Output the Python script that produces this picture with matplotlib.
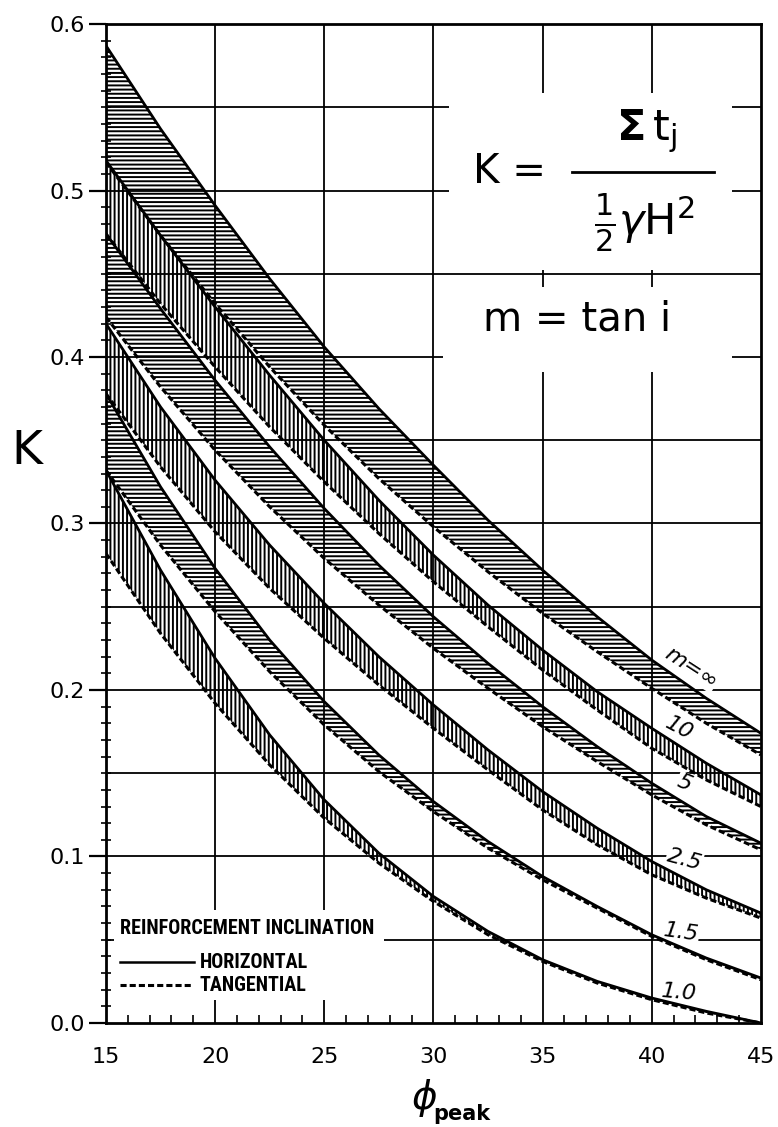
import numpy as np
import matplotlib.pyplot as plt
from matplotlib import font_manager
from matplotlib.patches import Rectangle

plt.rcParams['mathtext.fontset'] = 'dejavusans'
plt.rcParams['hatch.linewidth'] = 1.4
plt.rcParams['font.family'] = ['DejaVu Sans']

# friction angle, degrees
phi = [15, 17.5, 20, 22.5, 25, 27.5, 30, 32.5, 35, 37.5, 40, 42.5, 45]

# K for horizontal (solid) and tangential (dashed) reinforcement, one pair per m
k_inf_h = [0.587, 0.537, 0.491, 0.447, 0.406, 0.369, 0.335, 0.302, 0.272, 0.244, 0.218, 0.195, 0.174]
k_inf_t = [0.517, 0.473, 0.432, 0.394, 0.359, 0.327, 0.298, 0.271, 0.246, 0.223, 0.201, 0.180, 0.161]
k_10_h = [0.518, 0.473, 0.430, 0.389, 0.350, 0.314, 0.281, 0.251, 0.224, 0.199, 0.177, 0.156, 0.137]
k_10_t = [0.474, 0.432, 0.394, 0.358, 0.325, 0.294, 0.265, 0.238, 0.212, 0.188, 0.165, 0.146, 0.130]
k_5_h = [0.474, 0.429, 0.386, 0.346, 0.309, 0.275, 0.244, 0.216, 0.190, 0.166, 0.144, 0.124, 0.108]
k_5_t = [0.424, 0.382, 0.344, 0.310, 0.279, 0.251, 0.225, 0.201, 0.178, 0.157, 0.137, 0.119, 0.104]
k_25_h = [0.420, 0.370, 0.326, 0.287, 0.252, 0.220, 0.191, 0.164, 0.139, 0.117, 0.097, 0.080, 0.066]
k_25_t = [0.378, 0.334, 0.295, 0.261, 0.231, 0.203, 0.177, 0.152, 0.128, 0.107, 0.089, 0.075, 0.063]
k_15_h = [0.378, 0.322, 0.273, 0.230, 0.193, 0.161, 0.133, 0.109, 0.088, 0.070, 0.053, 0.039, 0.027]
k_15_t = [0.332, 0.287, 0.247, 0.211, 0.179, 0.151, 0.127, 0.105, 0.086, 0.069, 0.052, 0.038, 0.026]
k_10m_h = [0.332, 0.272, 0.219, 0.173, 0.134, 0.102, 0.076, 0.055, 0.038, 0.025, 0.015, 0.007, 0.000]
k_10m_t = [0.282, 0.234, 0.192, 0.155, 0.123, 0.096, 0.073, 0.053, 0.037, 0.024, 0.014, 0.006, 0.000]

bands = [
    (k_inf_h, k_inf_t, '----'),
    (k_10_h, k_10_t, '||||'),
    (k_5_h, k_5_t, '----'),
    (k_25_h, k_25_t, '||||'),
    (k_15_h, k_15_t, '----'),
    (k_10m_h, k_10m_t, '||||'),
]

m_labels = ['m=∞', '10', '5', '2.5', '1.5', '1.0']

# a narrow face for the legend if one is installed, else a small bold one
installed = {f.name for f in font_manager.fontManager.ttflist}
narrow = [n for n in ['Liberation Sans Narrow', 'Roboto Condensed', 'Open Sans Condensed']
          if n in installed]
if narrow:
    legend_font = dict(family=[narrow[0], 'DejaVu Sans'], fontsize=14.5, weight='bold')
else:
    legend_font = dict(family=['DejaVu Sans'], fontsize=11, weight='bold')

fig = plt.figure(figsize=(7.78, 11.27), dpi=100)
ax = fig.add_axes([0.1362, 0.0923, 0.8418, 0.8864])

ax.set_xlim(15, 45)
ax.set_ylim(0, 0.6)

# grid drawn by hand so the white panels can blank it out
for x in range(20, 45, 5):
    ax.axvline(x, color='black', lw=1.3, zorder=1)
for y in np.arange(0.05, 0.6, 0.05):
    ax.axhline(y, color='black', lw=1.3, zorder=1)

for k_h, k_t, hatch in bands:
    ax.fill_between(phi, k_t, k_h, facecolor='none', edgecolor='black',
                    hatch=hatch, linewidth=0, zorder=1.3)
    ax.plot(phi, k_h, color='black', lw=2.0, zorder=2)
    ax.plot(phi, k_t, color='black', lw=2.2, dashes=(2.0, 1.0), zorder=2)

# white panels behind formula and legend
for x0, y0, w, h in [(0.524, 0.754, 0.432, 0.177),
                     (0.514, 0.652, 0.442, 0.085),
                     (0.012, 0.023, 0.413, 0.090)]:
    ax.add_patch(Rectangle((x0, y0), w, h, transform=ax.transAxes,
                           facecolor='white', edgecolor='none', zorder=1.2))

# formula
ax.text(0.616, 0.852, 'K =', transform=ax.transAxes, fontsize=29,
        ha='center', va='center', zorder=3)
ax.text(0.826, 0.893, r'$\mathbf{\Sigma}\,\mathrm{t}_{\mathrm{j}}$', transform=ax.transAxes,
        fontsize=31, ha='center', va='center', zorder=3)
ax.plot([0.712, 0.928], [0.852, 0.852], transform=ax.transAxes, color='black',
        lw=2.0, zorder=3)
ax.text(0.822, 0.800, r'$\frac{1}{2}\gamma\mathrm{H}^{2}$', transform=ax.transAxes,
        fontsize=31, ha='center', va='center', zorder=3)
ax.text(0.72, 0.704, 'm = tan i', transform=ax.transAxes, fontsize=29,
        ha='center', va='center', zorder=3)

# m labels at the right end of the bands
label_pos = [(0.893, 0.355, -33), (0.875, 0.295, -28), (0.883, 0.240, -22),
             (0.883, 0.163, -15), (0.878, 0.091, -8), (0.875, 0.030, -5)]
for text, (lx, ly, rot) in zip(m_labels, label_pos):
    ax.text(lx, ly, text, transform=ax.transAxes, fontsize=16, style='italic',
            rotation=rot, ha='center', va='center', zorder=1.25,
            bbox=dict(facecolor='white', edgecolor='none', pad=0.5))

# legend
ax.text(0.021, 0.095, 'REINFORCEMENT INCLINATION', transform=ax.transAxes,
        ha='left', va='center', zorder=3, **legend_font)
ax.plot([0.021, 0.135], [0.061, 0.061], transform=ax.transAxes, color='black',
        lw=1.8, zorder=3)
ax.text(0.143, 0.061, 'HORIZONTAL', transform=ax.transAxes,
        ha='left', va='center', zorder=3, **legend_font)
ax.plot([0.021, 0.131], [0.038, 0.038], transform=ax.transAxes, color='black',
        lw=2.2, dashes=(2.0, 1.0), zorder=3)
ax.text(0.143, 0.038, 'TANGENTIAL', transform=ax.transAxes,
        ha='left', va='center', zorder=3, **legend_font)

ax.set_xticks(range(15, 46, 5))
ax.set_xticks(range(15, 46, 1), minor=True)
ax.set_yticks(np.arange(0, 0.61, 0.1))
ax.set_yticks(np.arange(0, 0.601, 0.01), minor=True)
ax.set_yticklabels([f'{v:.1f}' for v in np.arange(0, 0.61, 0.1)])

ax.tick_params(axis='y', which='major', direction='out', length=12, width=1.6,
               labelsize=16, pad=3)
ax.tick_params(axis='y', which='minor', direction='inout', length=7, width=1.2)
ax.tick_params(axis='x', which='major', direction='in', length=0, labelsize=16, pad=17)
ax.tick_params(axis='x', which='minor', direction='in', length=6, width=1.2)

for side in ['left', 'bottom', 'top', 'right']:
    ax.spines[side].set_linewidth(2.0)

ax.text(-0.120, 0.572, 'K', transform=ax.transAxes, fontsize=34,
        ha='center', va='center')
ax.text(0.486, -0.075, r'$\phi$', transform=ax.transAxes, fontsize=28,
        ha='center', va='center')
ax.text(0.499, -0.097, 'peak', transform=ax.transAxes, fontsize=15,
        weight='bold', ha='left', va='baseline')

plt.savefig('out.png', dpi=100)
